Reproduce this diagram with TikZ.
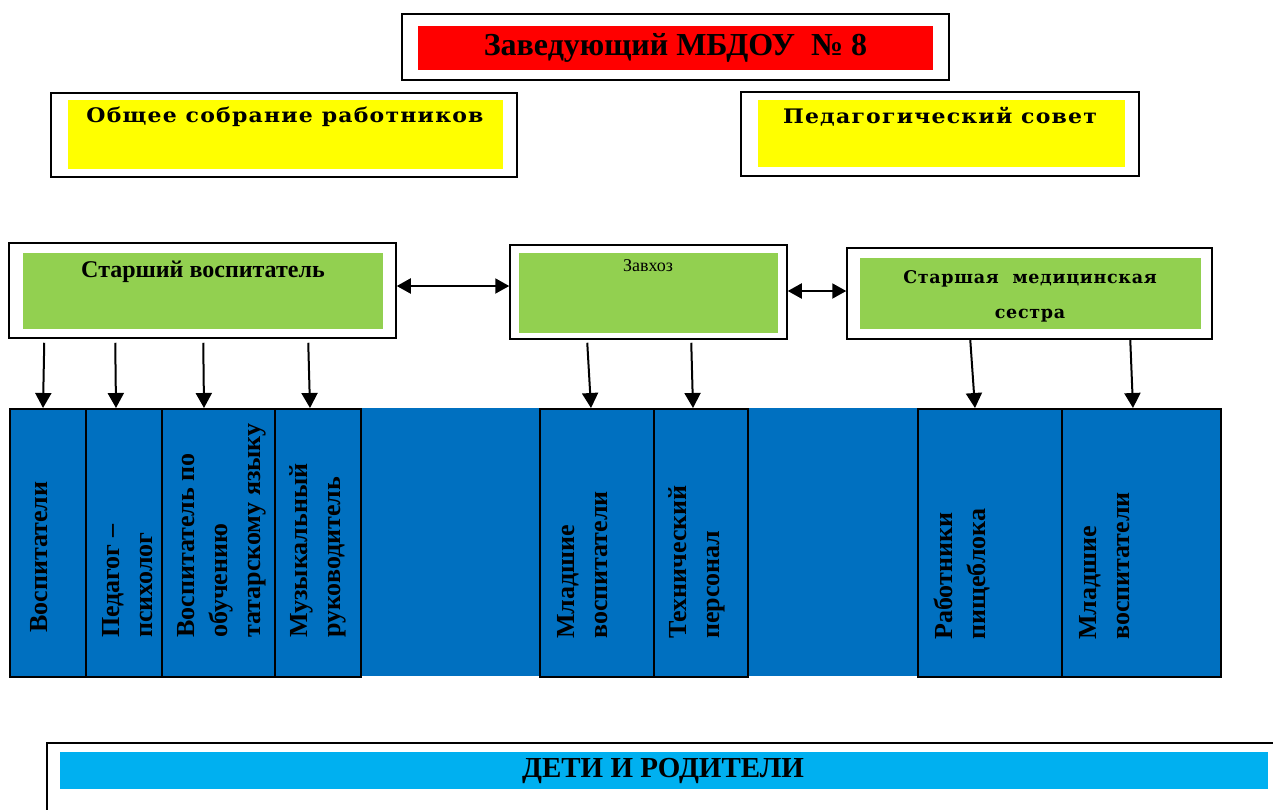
\documentclass[tikz,border=0pt]{standalone}
\usepackage{fontspec}
\setmainfont{Liberation Serif}
\newfontfamily\widefont[FakeStretch=1.1,LetterSpace=6]{DejaVu Serif}
\newfontfamily\medfont[LetterSpace=4]{DejaVu Serif}
\usetikzlibrary{arrows.meta,calc}
\definecolor{cred}{HTML}{FF0000}
\definecolor{cyellow}{HTML}{FFFF00}
\definecolor{cgreen}{HTML}{92D050}
\definecolor{cblue}{HTML}{0070C0}
\definecolor{ccyan}{HTML}{00B0F0}
\tikzset{
  outerbox/.style={draw=black, line width=1.5pt, fill=white, rectangle, inner sep=0pt},
  innerbox/.style={rectangle, inner sep=0pt, draw=none},
  cellbox/.style={draw=black, line width=1.8pt, rectangle, inner sep=0pt, fill=cblue},
  celltext/.style={rotate=90, anchor=west, inner sep=0pt, align=left,
    font=\bfseries\fontsize{26}{33}\selectfont},
  arr/.style={line width=2pt, -{Triangle[width=16pt,length=15pt]}},
  darr/.style={line width=2pt, {Triangle[width=15pt,length=14pt]}-{Triangle[width=15pt,length=14pt]}}
}
\begin{document}
\begin{tikzpicture}[x=1pt,y=-1pt]
\clip (0,0) rectangle (1273,809);
\fill[white] (0,0) rectangle (1273,809);
% top
\node[outerbox, minimum width=547pt, minimum height=66pt] (top) at (675.5,47) {};
\node[innerbox, fill=cred, minimum width=515pt, minimum height=44pt] (topin) at (675.5,48) {};
\node[inner sep=0pt, font=\bfseries\fontsize{32}{34}\selectfont] (toptext) at (675.5,48) {Заведующий МБДОУ~~№~8};
% general meeting
\node[outerbox, minimum width=466pt, minimum height=84pt] (gm) at (284,135) {};
\node[innerbox, fill=cyellow, minimum width=435pt, minimum height=69pt] (gmin) at (285.5,134.5) {};
\node[anchor=north, inner sep=0pt, font=\widefont\bfseries\fontsize{20}{22}\selectfont] (gmtext) at (285,107) {Общее собрание работников};
% ped council
\node[outerbox, minimum width=398pt, minimum height=84pt] (pc) at (940,134) {};
\node[innerbox, fill=cyellow, minimum width=367pt, minimum height=67pt] (pcin) at (941.5,133.5) {};
\node[anchor=north, inner sep=0pt, font=\widefont\bfseries\fontsize{20}{22}\selectfont] (pctext) at (940,107) {Педагогический совет};
% senior educator
\node[outerbox, minimum width=387pt, minimum height=95pt] (sr) at (202.5,290.5) {};
\node[innerbox, fill=cgreen, minimum width=360pt, minimum height=76pt] (srin) at (203,291) {};
\node[anchor=north, inner sep=0pt, font=\bfseries\fontsize{24}{26}\selectfont] (srtext) at (203,261) {Старший воспитатель};
% zavhoz
\node[outerbox, minimum width=277pt, minimum height=94pt] (zh) at (648.5,292) {};
\node[innerbox, fill=cgreen, minimum width=259pt, minimum height=80pt] (zhin) at (648.5,293) {};
\node[inner sep=0pt, font=\fontsize{18}{20}\selectfont] (zhtext) at (648,266) {Завхоз};
% medical
\node[outerbox, minimum width=365pt, minimum height=91pt] (md) at (1029.5,293.5) {};
\node[innerbox, fill=cgreen, minimum width=341pt, minimum height=71pt] (mdin) at (1030.5,293.5) {};
\node[inner sep=0pt, align=center, font=\medfont\bfseries\fontsize{17.5}{35}\selectfont] (mdtext) at (1030,296) {Старшая~~медицинская\\сестра};
% blue band
\fill[cblue] (9,408) rectangle (1220,676);
\node[cellbox, minimum width=76pt, minimum height=268pt, anchor=north west] (c1) at (9,408) {};
\node[cellbox, minimum width=76pt, minimum height=268pt, anchor=north west] (c2) at (85,408) {};
\node[cellbox, minimum width=113pt, minimum height=268pt, anchor=north west] (c3) at (161,408) {};
\node[cellbox, minimum width=86pt, minimum height=268pt, anchor=north west] (c4) at (274,408) {};
\node[cellbox, minimum width=114pt, minimum height=268pt, anchor=north west] (c5) at (539,408) {};
\node[cellbox, minimum width=94pt, minimum height=268pt, anchor=north west] (c6) at (653,408) {};
\node[cellbox, minimum width=144pt, minimum height=268pt, anchor=north west] (c7) at (917,408) {};
\node[cellbox, minimum width=159pt, minimum height=268pt, anchor=north west] (c8) at (1061,408) {};
\node[celltext] (t1) at (39,633) {Воспитатели};
\node[celltext] (t2) at (128,638) {Педагог –\\психолог};
\node[celltext] (t3) at (222,638) {Воспитатель по\\обучению\\татарскому языку};
\node[celltext] (t4) at (318,638) {Музыкальный\\руководитель};
\node[celltext] (t5) at (583,639) {Младшие\\воспитатели};
\node[celltext] (t6) at (697,639) {Технический\\персонал};
\node[celltext] (t7) at (962,640) {Работники\\пищеблока};
\node[celltext] (t8) at (1105,640) {Младшие\\воспитатели};
% arrows
\draw[arr] ([xshift=36pt,yshift=-4pt]sr.south west) -- ([xshift=34pt]c1.north west);
\draw[arr] ([xshift=107pt,yshift=-4pt]sr.south west) -- ([xshift=31pt]c2.north west);
\draw[arr] ([xshift=195pt,yshift=-4pt]sr.south west) -- ([xshift=43pt]c3.north west);
\draw[arr] ([xshift=300pt,yshift=-4pt]sr.south west) -- ([xshift=36pt]c4.north west);
\draw[arr] ([xshift=78pt,yshift=-3pt]zh.south west) -- ([xshift=52pt]c5.north west);
\draw[arr] ([xshift=182pt,yshift=-3pt]zh.south west) -- ([xshift=40pt]c6.north west);
\draw[arr] ([xshift=124pt]md.south west) -- ([xshift=58pt]c7.north west);
\draw[arr] ([xshift=284pt]md.south west) -- ([xshift=72pt]c8.north west);
\draw[darr] ([yshift=4.5pt]sr.east) -- ([yshift=6pt]zh.west);
\draw[darr] ([yshift=1pt]zh.east) -- ([yshift=2.5pt]md.west);
% children and parents
\node[outerbox, minimum width=1260pt, minimum height=100pt, anchor=north west] (cp) at (46,742) {};
\node[innerbox, fill=ccyan, minimum width=1208pt, minimum height=37pt, anchor=north west] (cpin) at (60,752) {};
\node[inner sep=0pt, font=\bfseries\fontsize{29}{30}\selectfont] (cptext) at (663,771) {ДЕТИ И РОДИТЕЛИ};
\end{tikzpicture}
\end{document}
